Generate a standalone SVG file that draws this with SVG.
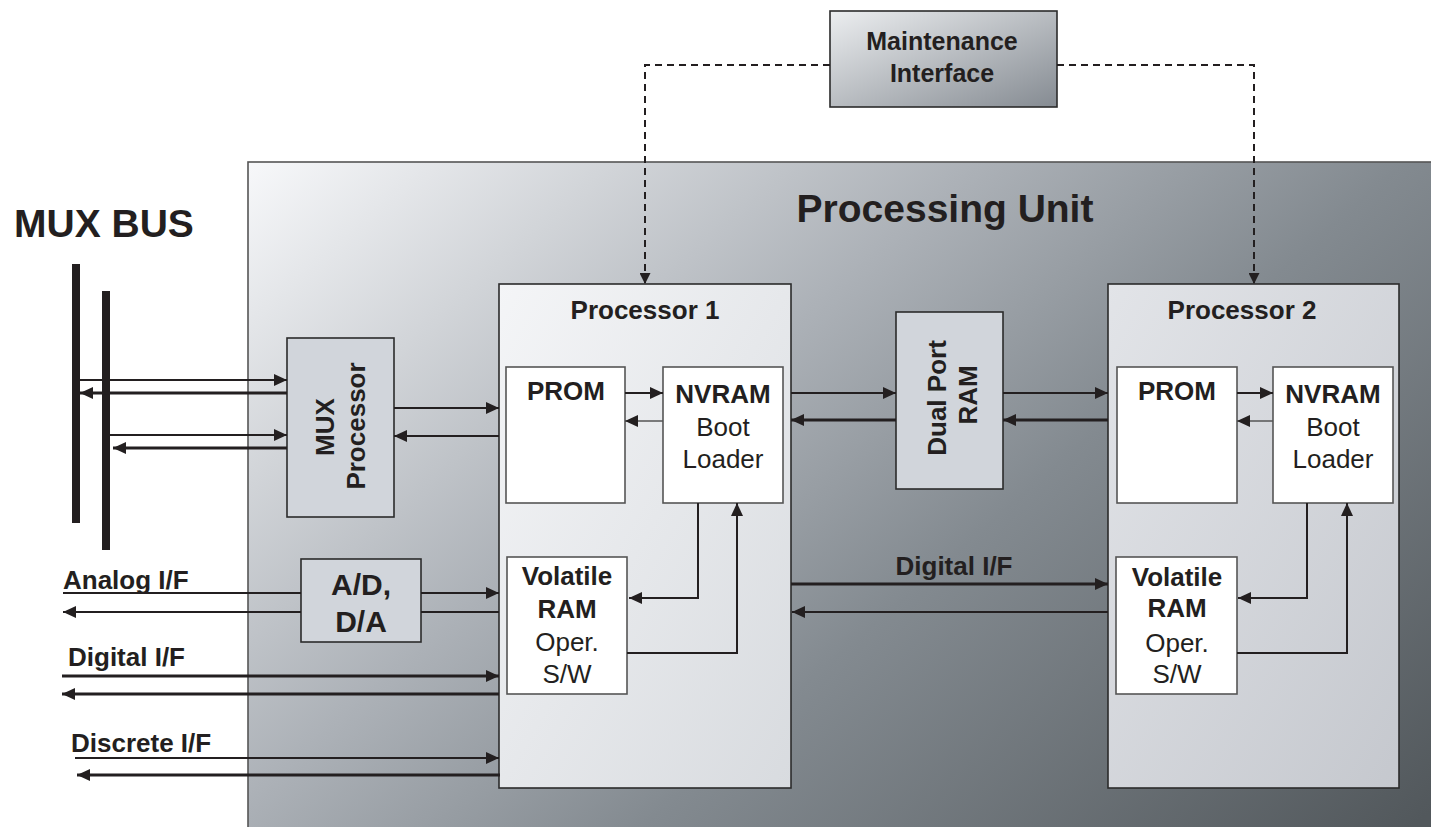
<svg xmlns="http://www.w3.org/2000/svg" width="1431" height="827" viewBox="0 0 1431 827">
<style>
text{font-family:"Liberation Sans",Arial,sans-serif;fill:#231f20}
.b{font-weight:bold}
.box{stroke:#2b2b2b;stroke-width:1.6}
.gbox{fill:#d1d5db;stroke:#2b2b2b;stroke-width:1.6}
.wbox{fill:#ffffff;stroke:#555;stroke-width:1.6}
.c{fill:none;stroke:#231f20;stroke-width:2}
.k{fill:none;stroke:#231f20;stroke-width:3}
.g{fill:none;stroke:#555;stroke-width:1.6}
.d{fill:none;stroke:#231f20;stroke-width:2;stroke-dasharray:7 5}
.bus{stroke:#231f20;stroke-width:8}
</style>
<defs>
<linearGradient id="pu" gradientUnits="userSpaceOnUse" x1="248" y1="162" x2="1079" y2="1117">
<stop offset="0" stop-color="#f7f8fa"/>
<stop offset="0.38" stop-color="#acb1b7"/>
<stop offset="0.6" stop-color="#838a90"/>
<stop offset="1" stop-color="#52585c"/>
</linearGradient>
<linearGradient id="p1" x1="0" y1="0" x2="1" y2="1">
<stop offset="0" stop-color="#f4f5f7"/>
<stop offset="1" stop-color="#d8dbdf"/>
</linearGradient>
<linearGradient id="p2" x1="0" y1="0" x2="1" y2="1">
<stop offset="0" stop-color="#e2e4e8"/>
<stop offset="1" stop-color="#c5c8ce"/>
</linearGradient>
<linearGradient id="mi" x1="0" y1="0" x2="1" y2="1">
<stop offset="0" stop-color="#eceef0"/>
<stop offset="1" stop-color="#858b92"/>
</linearGradient>
<marker id="ah" viewBox="0 0 13 12" refX="13" refY="6" markerWidth="13" markerHeight="12" markerUnits="userSpaceOnUse" orient="auto">
<path d="M0,0 L13,6 L0,12 Z" fill="#231f20"/>
</marker>
<marker id="as" viewBox="0 0 11 11" refX="11" refY="5.5" markerWidth="11" markerHeight="11" markerUnits="userSpaceOnUse" orient="auto">
<path d="M0,0 L11,5.5 L0,11 Z" fill="#231f20"/>
</marker>
</defs>

<g id="processing-unit">
<rect x="248" y="162" width="1200" height="680" fill="url(#pu)" stroke="#555" stroke-width="1.6"/>
<text class="b" x="945" y="222" font-size="39" text-anchor="middle">Processing Unit</text>
</g>

<g id="mux-bus">
<text class="b" x="14" y="237" font-size="39">MUX BUS</text>
<line class="bus" x1="76" y1="264" x2="76" y2="523"/>
<line class="bus" x1="106" y1="291" x2="106" y2="550"/>
</g>

<g id="maintenance-interface">
<rect class="box" x="830" y="11" width="227" height="96" fill="url(#mi)"/>
<text class="b" x="942" y="50" font-size="25" text-anchor="middle">Maintenance</text>
<text class="b" x="942" y="82" font-size="25" text-anchor="middle">Interface</text>
</g>

<g id="mux-processor">
<rect class="gbox" x="287" y="338" width="107" height="179"/>
<text class="b" font-size="26" text-anchor="middle" transform="translate(334,427) rotate(-90)">MUX</text>
<text class="b" font-size="26" text-anchor="middle" transform="translate(365,426) rotate(-90)">Processor</text>
</g>

<g id="ad-da">
<rect class="gbox" x="301" y="559" width="120" height="83"/>
<text class="b" x="361" y="595" font-size="30" text-anchor="middle">A/D,</text>
<text class="b" x="361" y="632" font-size="30" text-anchor="middle">D/A</text>
</g>

<g id="processor-1">
<rect class="box" x="499" y="284" width="292" height="504" fill="url(#p1)"/>
<text class="b" x="645" y="319" font-size="26" text-anchor="middle">Processor 1</text>
</g>
<g id="prom-1">
<rect class="wbox" x="506" y="367" width="119" height="136"/>
<text class="b" x="566" y="400" font-size="26" text-anchor="middle">PROM</text>
</g>
<g id="nvram-1">
<rect class="wbox" x="663" y="367" width="120" height="136"/>
<text class="b" x="723" y="403" font-size="26" text-anchor="middle">NVRAM</text>
<text x="723" y="436" font-size="26" text-anchor="middle">Boot</text>
<text x="723" y="468" font-size="26" text-anchor="middle">Loader</text>
</g>
<g id="volatile-ram-1">
<rect class="wbox" x="507" y="557" width="120" height="137"/>
<text class="b" x="567" y="585" font-size="26" text-anchor="middle">Volatile</text>
<text class="b" x="567" y="618" font-size="26" text-anchor="middle">RAM</text>
<text x="567" y="651" font-size="26" text-anchor="middle">Oper.</text>
<text x="567" y="683" font-size="26" text-anchor="middle">S/W</text>
</g>

<g id="dual-port-ram">
<rect class="gbox" x="896" y="312" width="107" height="177"/>
<text class="b" font-size="26" text-anchor="middle" transform="translate(946,398) rotate(-90)">Dual Port</text>
<text class="b" font-size="26" text-anchor="middle" transform="translate(977,395) rotate(-90)">RAM</text>
</g>

<g id="processor-2">
<rect class="box" x="1108" y="284" width="291" height="504" fill="url(#p2)"/>
<text class="b" x="1242" y="319" font-size="26" text-anchor="middle">Processor 2</text>
</g>
<g id="prom-2">
<rect class="wbox" x="1117" y="367" width="120" height="136"/>
<text class="b" x="1177" y="400" font-size="26" text-anchor="middle">PROM</text>
</g>
<g id="nvram-2">
<rect class="wbox" x="1273" y="367" width="120" height="136"/>
<text class="b" x="1333" y="403" font-size="26" text-anchor="middle">NVRAM</text>
<text x="1333" y="436" font-size="26" text-anchor="middle">Boot</text>
<text x="1333" y="468" font-size="26" text-anchor="middle">Loader</text>
</g>
<g id="volatile-ram-2">
<rect class="wbox" x="1116" y="557" width="121" height="137"/>
<text class="b" x="1177" y="586" font-size="26" text-anchor="middle">Volatile</text>
<text class="b" x="1177" y="617" font-size="26" text-anchor="middle">RAM</text>
<text x="1177" y="652" font-size="26" text-anchor="middle">Oper.</text>
<text x="1177" y="683" font-size="26" text-anchor="middle">S/W</text>
</g>

<g id="labels">
<text class="b" x="63" y="589" font-size="26">Analog I/F</text>
<text class="b" x="68" y="666" font-size="26">Digital I/F</text>
<text class="b" x="71" y="752" font-size="26">Discrete I/F</text>
<text class="b" x="954" y="575" font-size="26" text-anchor="middle">Digital I/F</text>
</g>

<g id="connectors">
<path class="c" d="M80,380 H287" marker-end="url(#ah)"/>
<path class="k" d="M287,393 H80" marker-end="url(#ah)"/>
<path class="c" d="M106,435 H287" marker-end="url(#ah)"/>
<path class="k" d="M287,448 H113" marker-end="url(#ah)"/>
<path class="c" d="M394,408 H499" marker-end="url(#ah)"/>
<path class="c" d="M499,436 H394" marker-end="url(#ah)"/>
<path class="c" d="M63,593 H301"/>
<path class="c" d="M421,593 H499" marker-end="url(#ah)"/>
<path class="c" d="M499,612 H421"/>
<path class="c" d="M301,612 H63" marker-end="url(#ah)"/>
<path class="k" d="M62,676 H499" marker-end="url(#ah)"/>
<path class="k" d="M499,694 H62" marker-end="url(#ah)"/>
<path class="c" d="M75,758 H499" marker-end="url(#ah)"/>
<path class="k" d="M500,775 H77" marker-end="url(#ah)"/>
<path class="c" d="M625,393 H663" marker-end="url(#ah)"/>
<path class="g" d="M663,421 H625" marker-end="url(#ah)"/>
<path class="c" d="M791,393 H896" marker-end="url(#ah)"/>
<path class="k" d="M896,420 H791" marker-end="url(#ah)"/>
<path class="c" d="M1003,393 H1108" marker-end="url(#ah)"/>
<path class="k" d="M1108,420 H1003" marker-end="url(#ah)"/>
<path class="c" d="M1237,393 H1273" marker-end="url(#ah)"/>
<path class="g" d="M1273,421 H1237" marker-end="url(#ah)"/>
<path class="c" d="M698,503 V598 H629" marker-end="url(#ah)"/>
<path class="c" d="M627,653 H737 V503" marker-end="url(#ah)"/>
<path class="c" d="M1307,503 V598 H1238" marker-end="url(#ah)"/>
<path class="c" d="M1237,653 H1347 V503" marker-end="url(#ah)"/>
<path class="k" d="M791,584 H1108" marker-end="url(#ah)"/>
<path class="c" d="M1108,612 H792" marker-end="url(#ah)"/>
<path class="d" d="M830,65 H645 V284" marker-end="url(#as)"/>
<path class="d" d="M1057,65 H1254 V284" marker-end="url(#as)"/>
</g>
</svg>
